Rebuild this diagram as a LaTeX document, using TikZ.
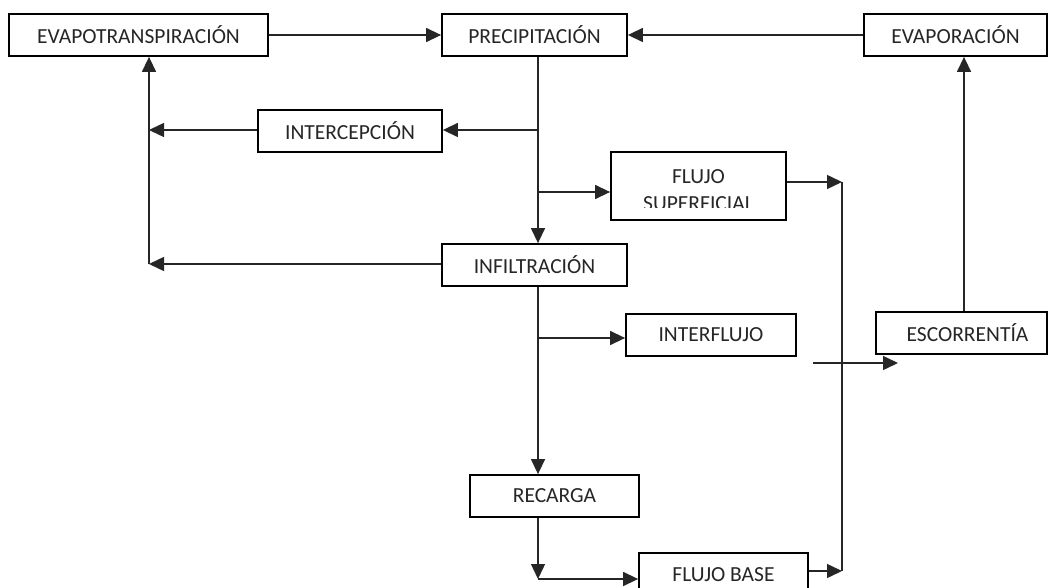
\documentclass[tikz,border=0pt]{standalone}
\usepackage{fontspec}
\setmainfont{Carlito}
\usetikzlibrary{arrows.meta}
\begin{document}
\begin{tikzpicture}[x=1pt,y=-1pt,
  box/.style={draw=black, line width=1.8pt, fill=white, inner sep=0pt, font=\fontsize{21.5}{27}\selectfont, text=black!85},
  txt/.style={inner sep=0pt, font=\fontsize{21.5}{27}\selectfont, text=black!85},
  conn/.style={draw=black!85, line width=1.4pt, -{Triangle[length=15pt,width=14pt]}},
  plain/.style={draw=black!85, line width=1.4pt}]
\useasboundingbox (0,0) rectangle (1049,588);
% boxes
\node[box, minimum width=259pt, minimum height=42pt] (evt) at (138.5,35) {EVAPOTRANSPIRACIÓN};
\node[box, minimum width=185pt, minimum height=42pt] (pre) at (534.5,35) {PRECIPITACIÓN};
\node[box, minimum width=183pt, minimum height=42pt] (evp) at (955.5,35) {EVAPORACIÓN};
\node[box, minimum width=184pt, minimum height=42pt] (int) at (350,131) {INTERCEPCIÓN};
\node[box, minimum width=175pt, minimum height=68pt] (fs) at (698.5,186) {};
\begin{scope}
\clip (611,152) rectangle (786,208);
\node[txt, align=center] (fstxt) at (698.5,190) {FLUJO\\SUPERFICIAL};
\end{scope}
\node[box, minimum width=185pt, minimum height=42pt] (inf) at (534.5,265) {INFILTRACIÓN};
\node[box, minimum width=170pt, minimum height=42pt] (ifl) at (711,335) {INTERFLUJO};
\node[box, minimum width=171pt, minimum height=42pt] (esc) at (961.5,333) {\hspace*{12pt}ESCORRENTÍA};
\node[box, minimum width=169pt, minimum height=42pt] (rec) at (554.5,496) {RECARGA};
\node[box, minimum width=169pt, minimum height=44pt] (fb) at (723.5,575) {FLUJO BASE};
% junction coordinates
\coordinate (j1) at (538,130);
\coordinate (j2) at (538,192);
\coordinate (j3) at (538,338);
\coordinate (b1) at (538,579);
\coordinate (l1) at (149,130);
\coordinate (l2) at (149,264);
\coordinate (r1) at (842,182);
\coordinate (r2) at (842,571);
\coordinate (e1) at (964,200);
\coordinate (s1) at (813,363);
\coordinate (s2) at (898,363);
% connectors
\draw[conn] (evt.east) -- (pre.west);
\draw[conn] (evp.west) -- (pre.east);
\draw[conn] (pre.south -| j1) -- (inf.north -| j1);
\draw[conn] (j1) -- (int.east |- j1);
\draw[conn] (j2) -- (fs.west |- j2);
\draw[conn] (int.west |- l1) -- (l1);
\draw[conn] (inf.west |- l2) -- (l2);
\draw[conn] (l2) -- (evt.south -| l2);
\draw[conn] (inf.south -| j3) -- (rec.north -| j3);
\draw[conn] (j3) -- (ifl.west |- j3);
\draw[conn] (rec.south -| b1) -- (b1);
\draw[conn] (b1) -- (fb.west |- b1);
\draw[conn] (fs.east |- r1) -- (r1);
\draw[conn] (fb.east |- r2) -- (r2);
\draw[plain] (r1) -- (r2);
\draw[conn] (s1) -- (s2);
\draw[conn] (esc.north -| e1) -- (evp.south -| e1);
\end{tikzpicture}
\end{document}
